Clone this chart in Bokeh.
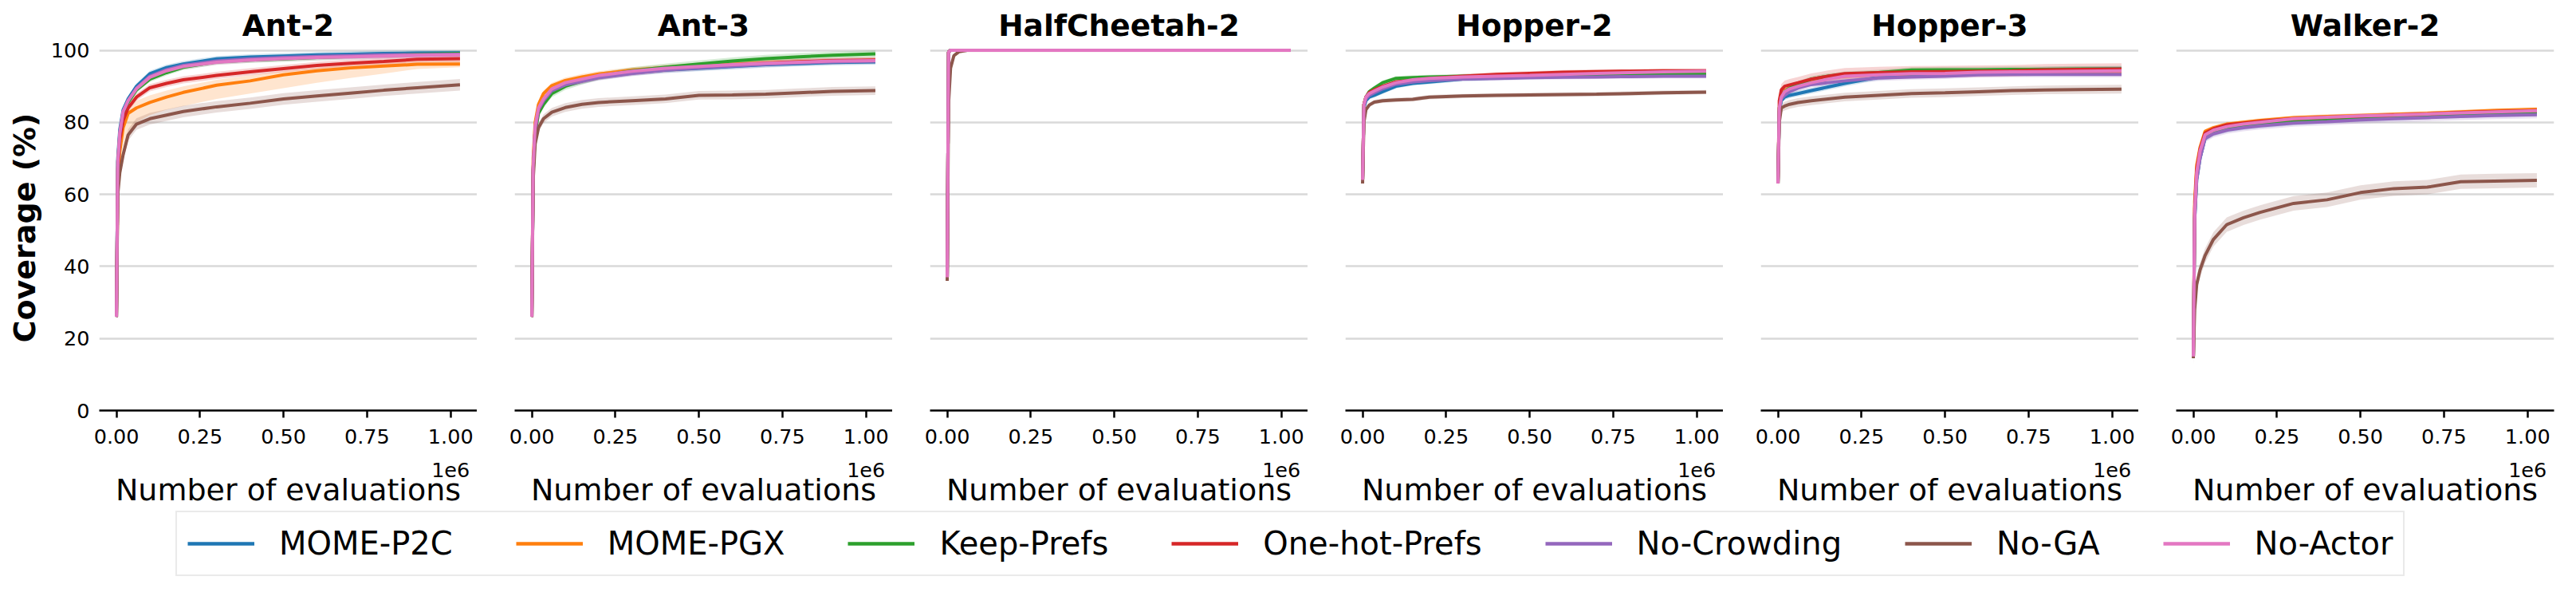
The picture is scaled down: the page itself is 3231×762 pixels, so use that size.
from bokeh.plotting import figure
from bokeh.layouts import row, column
from bokeh.models import Range1d, FixedTicker, CustomJSTickFormatter, Legend, LegendItem
from bokeh.embed import file_html
from bokeh.resources import INLINE

FONT = "DejaVu Sans"
METHODS = ["MOME-P2C", "MOME-PGX", "Keep-Prefs", "One-hot-Prefs", "No-Crowding", "No-GA", "No-Actor"]
COLORS = ["#1f77b4", "#ff7f0e", "#2ca02c", "#d62728", "#9467bd", "#8c564b", "#e377c2"]
TASKS = ["Ant-2", "Ant-3", "HalfCheetah-2", "Hopper-2", "Hopper-3", "Walker-2"]
X_TICKS = [0, 250000, 500000, 750000, 1000000]
Y_TICKS = [0, 20, 40, 60, 80, 100]
X_OFFSET_TEXT = "1e6"

EVALS = [0, 4000, 10000, 20000, 35000, 60000, 100000, 150000, 200000, 300000,
         400000, 500000, 600000, 700000, 800000, 900000, 1028000]

# ---- Ant-2
ANT2_P2C = [26, 70, 78, 83.5, 86.5, 90, 93.5, 95.2, 96.2, 97.6, 98.1, 98.4, 98.7, 98.9, 99.1, 99.2, 99.3]
ANT2_PGX = [26, 64, 72, 78.5, 82.5, 84, 85.5, 87, 88.3, 90.3, 91.5, 93.2, 94.3, 95.1, 95.6, 96.1, 96.2]
ANT2_KEEP = [26, 69, 76.5, 82.5, 85.5, 89, 92, 93.8, 95.3, 96.8, 97.3, 97.6, 98, 98.3, 98.6, 98.9, 99.1]
ANT2_ONEHOT = [26, 67, 75, 80.5, 84, 87, 89.6, 90.8, 91.8, 93, 94, 94.9, 95.8, 96.4, 96.9, 97.5, 97.7]
ANT2_NOCROWD = [26, 69, 77, 83, 86, 89.5, 92.8, 94.6, 95.8, 97, 97.6, 98, 98.3, 98.5, 98.7, 98.8, 98.9]
ANT2_NOGA = [26, 60, 66, 71, 76.5, 79.5, 81, 82, 83, 84.3, 85.3, 86.5, 87.3, 88.1, 88.9, 89.6, 90.4]
ANT2_NOACTOR = [26, 69, 77, 83, 86, 89.3, 92.5, 94.3, 95.5, 96.7, 97.3, 97.7, 98, 98.2, 98.4, 98.6, 98.7]
ANT2_BAND = [0.8, 1.5, 0.8, 1.0, 0.8, 1.6, 0.8]
ANT2_PGX_LO = [25, 56, 66, 73, 77, 80, 82, 83.5, 84.5, 86.5, 88, 89.5, 91, 92.3, 93.5, 94.8, 95.3]
ANT2_PGX_HI = [27, 68, 75, 81, 84, 86, 87.5, 88.8, 90, 91.8, 93, 94.2, 95.2, 96, 96.6, 97, 97.2]

# ---- Ant-3
ANT3_P2C = [26, 67, 78, 83.5, 86, 88.8, 90.5, 91.5, 92.5, 93.7, 94.5, 95, 95.5, 96, 96.3, 96.6, 96.8]
ANT3_PGX = [26, 70, 80, 85, 88, 90.2, 91.6, 92.6, 93.4, 94.5, 95.2, 95.7, 96.1, 96.5, 96.8, 97, 97.2]
ANT3_KEEP = [26, 66, 77, 82.5, 85, 88, 90, 91.5, 92.8, 94.3, 95.3, 96.2, 97, 97.7, 98.2, 98.6, 99]
ANT3_ONEHOT = [26, 67, 78, 83.5, 86.2, 89, 90.6, 91.6, 92.6, 93.8, 94.7, 95.3, 95.9, 96.4, 96.8, 97.1, 97.3]
ANT3_NOCROWD = [26, 67, 78, 83.5, 86, 88.8, 90.4, 91.4, 92.4, 93.6, 94.5, 95.1, 95.6, 96.1, 96.5, 96.8, 97]
ANT3_NOGA = [26, 64, 74, 78.5, 81, 82.8, 84.1, 85, 85.5, 86, 86.5, 87.5, 87.6, 87.8, 88.2, 88.6, 88.8]
ANT3_NOACTOR = [26, 68, 79, 84, 86.5, 89.3, 91, 92, 93, 94.2, 95, 95.5, 96, 96.4, 96.7, 97, 97.1]
ANT3_BAND = [0.8, 0.8, 1.0, 0.8, 0.8, 1.2, 0.8]

# ---- HalfCheetah-2
HC2_P2C = [37, 99.5, 100, 100, 100, 100, 100, 100, 100, 100, 100, 100, 100, 100, 100, 100, 100]
HC2_PGX = [37, 99.5, 100, 100, 100, 100, 100, 100, 100, 100, 100, 100, 100, 100, 100, 100, 100]
HC2_KEEP = [37, 99.5, 100, 100, 100, 100, 100, 100, 100, 100, 100, 100, 100, 100, 100, 100, 100]
HC2_ONEHOT = [37, 99.5, 100, 100, 100, 100, 100, 100, 100, 100, 100, 100, 100, 100, 100, 100, 100]
HC2_NOCROWD = [37, 99.5, 100, 100, 100, 100, 100, 100, 100, 100, 100, 100, 100, 100, 100, 100, 100]
HC2_NOGA = [36, 85, 95, 98.5, 99.6, 100, 100, 100, 100, 100, 100, 100, 100, 100, 100, 100, 100]
HC2_NOACTOR = [37, 99.5, 100, 100, 100, 100, 100, 100, 100, 100, 100, 100, 100, 100, 100, 100, 100]
HC2_BAND = [0.3, 0.3, 0.3, 0.3, 0.3, 0.5, 0.3]

# ---- Hopper-2
HOP2_P2C = [64, 84, 86, 87, 87.5, 88.5, 90, 90.8, 91.2, 92, 92.3, 92.5, 92.7, 92.8, 92.9, 93, 93]
HOP2_PGX = [64, 85, 87, 88, 88.7, 89.8, 91, 91.6, 92, 92.5, 92.8, 93, 93.2, 93.3, 93.4, 93.5, 93.5]
HOP2_KEEP = [64, 85, 87, 88.5, 89.5, 91, 92.2, 92.4, 92.6, 92.8, 92.9, 93, 93.1, 93.2, 93.3, 93.4, 93.4]
HOP2_ONEHOT = [64, 85, 87, 88.3, 89, 90, 91.2, 91.7, 92.2, 92.8, 93.3, 93.6, 93.9, 94.1, 94.2, 94.3, 94.3]
HOP2_NOCROWD = [64, 84.5, 86.5, 87.5, 88.2, 89.3, 90.6, 91.2, 91.6, 92, 92.2, 92.4, 92.5, 92.6, 92.7, 92.8, 92.8]
HOP2_NOGA = [63, 80, 83.5, 84.8, 85.6, 86, 86.2, 86.4, 87, 87.3, 87.5, 87.6, 87.7, 87.8, 88, 88.2, 88.4]
HOP2_NOACTOR = [64, 85, 87, 88, 88.7, 89.8, 91, 91.8, 92.2, 92.6, 92.8, 93, 93.3, 93.6, 93.8, 94, 94.2]
HOP2_BAND = [0.6, 0.6, 0.6, 0.6, 0.6, 0.6, 0.6]

# ---- Hopper-3
HOP3_P2C = [63, 83, 86, 87, 87.5, 88, 88.8, 89.8, 90.8, 92.5, 93.2, 93.5, 93.8, 94.1, 94.6, 94.7, 94.8]
HOP3_PGX = [63, 84, 87, 88.8, 89.5, 90.3, 91.3, 92.3, 92.8, 93.3, 93.5, 93.7, 93.8, 93.9, 94, 94, 94.1]
HOP3_KEEP = [63, 84, 87, 88.5, 89.5, 90.5, 92, 92.8, 93.3, 93.8, 94.5, 94.6, 94.6, 94.7, 94.7, 94.8, 94.8]
HOP3_ONEHOT = [63, 86, 89, 90, 90.4, 91, 92, 92.8, 93.5, 93.8, 94, 94.1, 94.2, 94.3, 94.6, 94.7, 94.8]
HOP3_NOCROWD = [63, 83.5, 86.5, 87.5, 88.5, 89.5, 90.5, 91, 91.5, 92.3, 92.6, 92.8, 93.2, 93.3, 93.3, 93.3, 93.3]
HOP3_NOGA = [63, 80, 84, 84.5, 85, 85.5, 86, 86.5, 87, 87.5, 88, 88.2, 88.5, 88.8, 89, 89.1, 89.2]
HOP3_NOACTOR = [63, 84, 87, 88.5, 89.3, 90, 91, 92, 92.8, 93.2, 93.5, 93.6, 93.9, 94, 94.1, 94.2, 94.3]
HOP3_BAND = [0.8, 0.7, 0.8, 1.6, 0.8, 1.2, 0.7]

# ---- Walker-2
WALK2_P2C = [15, 53, 64, 70, 75.5, 77, 78, 78.7, 79.2, 80, 80.5, 81, 81.3, 81.7, 82, 82.3, 82.5]
WALK2_PGX = [15, 58, 68, 73, 77.5, 78.5, 79.5, 80, 80.5, 81.3, 81.6, 81.9, 82.2, 82.5, 82.9, 83.3, 83.6]
WALK2_KEEP = [15, 54, 65, 71, 76, 77.5, 78.5, 79.2, 79.8, 80.5, 80.9, 81.3, 81.7, 82, 82.4, 82.7, 82.9]
WALK2_ONEHOT = [15, 56, 67, 72.5, 77, 78.2, 79.3, 79.8, 80.3, 81, 81.4, 81.7, 82, 82.3, 82.7, 83, 83.3]
WALK2_NOCROWD = [15, 53, 64, 70, 75.5, 76.8, 77.8, 78.5, 79, 79.8, 80.2, 80.7, 81, 81.3, 81.6, 81.9, 82.1]
WALK2_NOGA = [14.5, 28, 35, 39, 43, 47.5, 51.6, 53.5, 55, 57.5, 58.5, 60.5, 61.6, 62, 63.5, 63.7, 63.9]
WALK2_NOACTOR = [15, 55, 66, 72, 76.5, 77.8, 78.8, 79.5, 80, 81, 81.4, 81.8, 82, 82.3, 82.6, 82.9, 83.2]
WALK2_BAND = [0.8, 0.6, 0.7, 0.6, 1.0, 2.0, 0.7]

SERIES = {
    "Ant-2": [ANT2_P2C, ANT2_PGX, ANT2_KEEP, ANT2_ONEHOT, ANT2_NOCROWD, ANT2_NOGA, ANT2_NOACTOR],
    "Ant-3": [ANT3_P2C, ANT3_PGX, ANT3_KEEP, ANT3_ONEHOT, ANT3_NOCROWD, ANT3_NOGA, ANT3_NOACTOR],
    "HalfCheetah-2": [HC2_P2C, HC2_PGX, HC2_KEEP, HC2_ONEHOT, HC2_NOCROWD, HC2_NOGA, HC2_NOACTOR],
    "Hopper-2": [HOP2_P2C, HOP2_PGX, HOP2_KEEP, HOP2_ONEHOT, HOP2_NOCROWD, HOP2_NOGA, HOP2_NOACTOR],
    "Hopper-3": [HOP3_P2C, HOP3_PGX, HOP3_KEEP, HOP3_ONEHOT, HOP3_NOCROWD, HOP3_NOGA, HOP3_NOACTOR],
    "Walker-2": [WALK2_P2C, WALK2_PGX, WALK2_KEEP, WALK2_ONEHOT, WALK2_NOCROWD, WALK2_NOGA, WALK2_NOACTOR],
}
BANDS = {"Ant-2": ANT2_BAND, "Ant-3": ANT3_BAND, "HalfCheetah-2": HC2_BAND,
         "Hopper-2": HOP2_BAND, "Hopper-3": HOP3_BAND, "Walker-2": WALK2_BAND}

X_START, X_END = -51400, 1079400
Y_START, Y_END = 0, 101.44

TICK_JS = """
if (Math.abs(tick - 1000000) < 1) { return (tick/1e6).toFixed(2) + "\\n" + "%s"; }
return (tick/1e6).toFixed(2);
""" % X_OFFSET_TEXT

figs = []
for i, task in enumerate(TASKS):
    first = i == 0
    last = i == len(TASKS) - 1
    p = figure(frame_width=474, frame_height=458,
               x_range=Range1d(X_START, X_END), y_range=Range1d(Y_START, Y_END),
               output_backend="svg", toolbar_location=None,
               min_border_left=124 if first else 47,
               min_border_right=14 if last else 0,
               min_border_top=56, min_border_bottom=100)
    p.outline_line_color = None
    p.background_fill_color = "white"
    p.border_fill_color = "white"
    p.title.text = task
    p.title.align = "center"
    p.title.text_font = FONT
    p.title.text_font_size = "37.5px"
    p.title.text_font_style = "bold"
    p.title.text_color = "black"
    p.title.standoff = 5

    for j, (name, col) in enumerate(zip(METHODS, COLORS)):
        y = SERIES[task][j]
        if task == "Ant-2" and name == "MOME-PGX":
            lo, hi = ANT2_PGX_LO, ANT2_PGX_HI
        else:
            w = BANDS[task][j]
            lo = [v - w for v in y]
            hi = [min(v + w, 100.0) for v in y]
        p.varea(x=EVALS, y1=lo, y2=hi, fill_color=col, fill_alpha=0.2)
    for j, (name, col) in enumerate(zip(METHODS, COLORS)):
        p.line(EVALS, SERIES[task][j], line_color=col, line_width=4)

    xa = p.xaxis[0]
    xa.ticker = FixedTicker(ticks=X_TICKS)
    xa.formatter = CustomJSTickFormatter(code=TICK_JS)
    xa.axis_line_width = 2.5
    xa.axis_line_color = "black"
    xa.major_tick_out = 9
    xa.major_tick_in = 0
    xa.major_tick_line_width = 2.5
    xa.minor_tick_line_color = None
    xa.major_label_text_font = FONT
    xa.major_label_text_font_size = "25.5px"
    xa.major_label_text_color = "black"
    xa.major_label_text_line_height = 1.4
    xa.major_label_standoff = 8
    xa.axis_label = "Number of evaluations"
    xa.axis_label_text_font = FONT
    xa.axis_label_text_font_size = "38px"
    xa.axis_label_text_font_style = "normal"
    xa.axis_label_text_color = "black"
    xa.axis_label_standoff = -15

    ya = p.yaxis[0]
    ya.ticker = FixedTicker(ticks=Y_TICKS)
    if first:
        ya.axis_line_color = None
        ya.major_tick_out = 0
        ya.major_tick_in = 0
        ya.minor_tick_line_color = None
        ya.major_label_text_font = FONT
        ya.major_label_text_font_size = "25.5px"
        ya.major_label_text_color = "black"
        ya.major_label_standoff = 12
        ya.axis_label = "Coverage (%)"
        ya.axis_label_text_font = FONT
        ya.axis_label_text_font_size = "38px"
        ya.axis_label_text_font_style = "bold"
        ya.axis_label_text_color = "black"
        ya.axis_label_standoff = 8
    else:
        ya.visible = False

    p.xgrid.visible = False
    p.ygrid.ticker = FixedTicker(ticks=Y_TICKS)
    p.ygrid.grid_line_color = "#d9d9d9"
    p.ygrid.grid_line_width = 2.7
    figs.append(p)

total_w = 124 + 474 + 4 * (47 + 474) + 47 + 474 + 14
LEG_H = 90
lg = figure(width=total_w, height=LEG_H, x_range=Range1d(0, 1), y_range=Range1d(0, 1),
            output_backend="svg", toolbar_location=None,
            x_axis_location=None, y_axis_location=None, min_border=0)
lg.outline_line_color = None
lg.xgrid.visible = False
lg.ygrid.visible = False
items = []
for name, col in zip(METHODS, COLORS):
    r = lg.line([-2, -1], [-2, -1], line_color=col, line_width=4.3)
    items.append(LegendItem(label=name, renderers=[r]))
legend = Legend(items=items, orientation="horizontal", location=(220, 6),
                glyph_width=84, glyph_height=52, label_height=52, label_standoff=31, spacing=79,
                padding=13, margin=0, label_text_font=FONT, label_text_font_size="40px",
                label_text_color="black", border_line_color="#d5d5d5",
                border_line_width=2.5, background_fill_color="white", background_fill_alpha=1)
lg.add_layout(legend)

layout = column(row(*figs), lg)
open("out.html", "w").write(file_html(layout, INLINE))
